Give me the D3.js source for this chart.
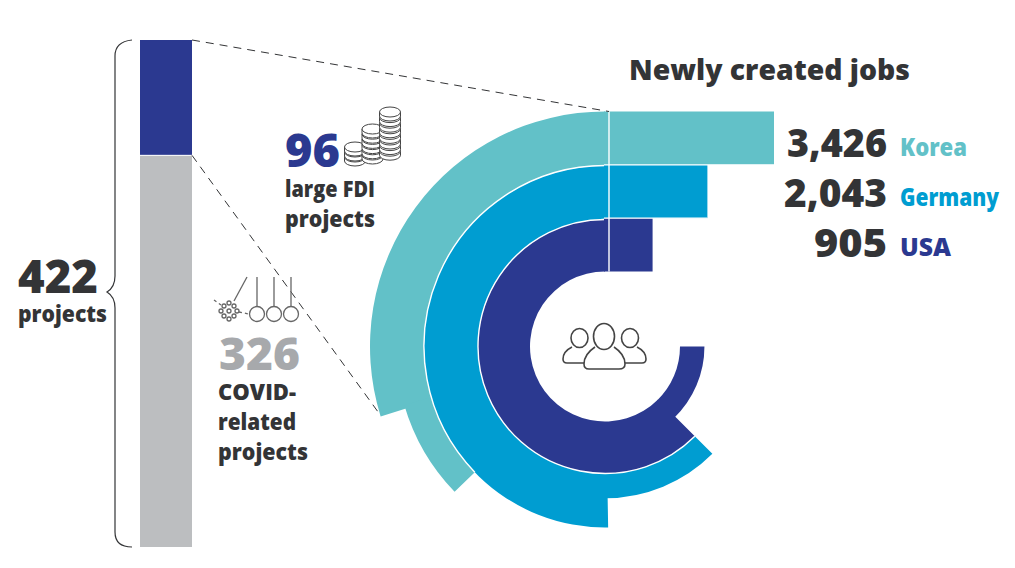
<!DOCTYPE html>
<html><head><meta charset="utf-8">
<script src="https://cdnjs.cloudflare.com/ajax/libs/d3/7.8.5/d3.min.js"></script>
<style>html,body{margin:0;background:#fff}svg{display:block}text{font-family:"Open Sans","Noto Sans",sans-serif;font-weight:800}</style>
</head><body><svg id="c" width="1015" height="568"></svg>
<script>
const countries=["Korea","Germany","USA"];
const jobs=[3426,2043,905];
const jobLabels=["3,426","2,043","905"];
const projectGroups=["large FDI","COVID-related"];
const projectValues=[96,326];
const totalProjects=422;
// ring segments: [country index, start angle deg clockwise from top, end angle, track from, track to]
const ringCountry=[0,0,1,1,2,2];
const ringStart=[252.7,226,179,135,135,90];
const ringEnd=[360,252.7,360,179,360,135];
const ringFrom=[2,2,1,1,0,0];
const ringTo=[3,2.52,2,1.46,1,0.47];
const colors=["#62c1c8","#009dd1","#2b3990"];
const barColors=["#2b3990","#bcbec0"];
const ink="#333436";

const svg=d3.select("#c");
const cx=605,cy=346.5,barBase=609;
const angle=d3.scaleLinear().domain([0,360]).range([0,2*Math.PI]);
const radius=d3.scaleLinear().domain([0,1,2,3]).range([75,127,181,235]);
const jobX=d3.scaleLinear().domain([0,3426]).range([barBase,774]);
const barY=d3.scaleLinear().domain([0,totalProjects]).range([40,547]);
const rowY=d3.scaleBand().domain(countries).range([radius(3),radius(0)].map(r=>cy-r)).paddingInner(0);

// stacked bar
const stack=projectValues.reduce((a,v)=>{a.push((a.length?a[a.length-1]:0)+v);return a},[]);
svg.selectAll("rect.b").data(projectValues).join("rect").attr("class","b")
 .attr("x",140).attr("width",52)
 .attr("y",(d,i)=>barY(stack[i]-d)).attr("height",d=>barY(d)-barY(0))
 .attr("fill",(d,i)=>barColors[i]);
svg.append("line").attr("x1",140).attr("x2",192).attr("y1",barY(stack[0])).attr("y2",barY(stack[0])).attr("stroke","#fff").attr("stroke-width",1);

// brace
svg.append("path").attr("d","M132,40 C122,41 115,45 115,56 L115,276 C115,284 112,289 107,292 C112,295 115,300 115,308 L115,532 C115,543 122,547 132,547")
 .attr("fill","none").attr("stroke",ink).attr("stroke-width",1.2);

// rings (narrow segments tuck slightly under the wide ones so no seam shows)
const arc=d3.arc();
svg.selectAll("path.r").data(ringCountry).join("path").attr("class","r")
 .attr("transform",`translate(${cx},${cy})`)
 .attr("fill",d=>colors[d])
 .attr("d",(d,i)=>arc({innerRadius:radius(ringFrom[i]),outerRadius:radius(ringTo[i]),startAngle:angle(ringStart[i]),endAngle:angle(ringEnd[i]+(i%2?1:0))}));
// white ring separators
[1,2].forEach((t,k)=>{
 svg.append("path").attr("transform",`translate(${cx},${cy})`).attr("fill","none").attr("stroke","#fff").attr("stroke-width",1.4)
  .attr("d",d3.arc()({innerRadius:radius(t),outerRadius:radius(t),startAngle:angle(k?226:135),endAngle:angle(360)}));
});
// horizontal bars
svg.selectAll("rect.j").data(jobs).join("rect").attr("class","j")
 .attr("x",cx-1).attr("width",d=>jobX(d)-cx+1)
 .attr("y",(d,i)=>rowY(countries[i])).attr("height",rowY.bandwidth())
 .attr("fill",(d,i)=>colors[i]);
svg.selectAll("line.h").data(jobs.slice(1)).join("line").attr("class","h")
 .attr("x1",cx-1).attr("x2",(d,i)=>jobX(jobs[i])).attr("y1",(d,i)=>rowY(countries[i+1])).attr("y2",(d,i)=>rowY(countries[i+1]))
 .attr("stroke","#fff").attr("stroke-width",1.2);
svg.append("line").attr("x1",barBase).attr("x2",barBase).attr("y1",cy-radius(3)).attr("y2",cy-radius(0)).attr("stroke","#fff").attr("stroke-width",1.4);

// dashed connectors
const dash=(a,b,c,e)=>svg.append("line").attr("x1",a).attr("y1",b).attr("x2",c).attr("y2",e).attr("stroke",ink).attr("stroke-width",1).attr("stroke-dasharray","8 6");
dash(192,barY(0),barBase,cy-radius(3));
dash(192,barY(stack[0]),381,416);

// text
const T=(s,x,y,size,fill,w,anchor)=>svg.append("text").text(s).attr("x",x).attr("y",y).attr("font-size",size).attr("fill",fill)
 .attr("text-anchor",anchor||"start").attr("textLength",w).attr("lengthAdjust","spacingAndGlyphs");
T("Newly created jobs",629,80,29,ink,281);
const numY=[157,207,257],labY=[156,206,256],numW=[100,103,73],labW=[67,99,51];
jobLabels.forEach((s,i)=>{T(s,887,numY[i],39,ink,numW[i],"end");T(countries[i],900,labY[i],24,colors[i],labW[i]);});
T(String(projectValues[0]),285,167,46,barColors[0],55);
T("large FDI",285,197,23,ink,90);T("projects",285,227,23,ink,90);
T(String(projectValues[1]),219,370,45,"#a7a9ac",81);
T("COVID-",218,400,23,ink,78);T("related",218,430,23,ink,78);T("projects",218,460,23,ink,90);
T(String(totalProjects),18,293,46,ink,80);T("projects",18,322,23,ink,89);

// coins icon
const ic=svg.append("g").attr("fill","#fff").attr("stroke","#444").attr("stroke-width",1);
[[355,3,147,5],[372.5,6,129,5.2],[390,8,112,5.6]].forEach(([x,n,top,s])=>{
 for(let i=n-1;i>=0;i--){
  const y=top+i*s;
  ic.append("path").attr("d",`M${x-10.5},${y} v4 a10.5,5 0 0 0 21,0 v-4`);
  ic.append("ellipse").attr("cx",x).attr("cy",y).attr("rx",10.5).attr("ry",5);
 }
});
// pendulum icon
const pe=svg.append("g").attr("fill","none").attr("stroke","#666").attr("stroke-width",1.3);
[257,274,291].forEach(x=>{pe.append("line").attr("x1",x).attr("x2",x).attr("y1",277).attr("y2",306);pe.append("circle").attr("cx",x).attr("cy",314).attr("r",7.5);});
pe.append("line").attr("x1",247).attr("y1",277).attr("x2",234).attr("y2",301);
pe.append("line").attr("x1",214).attr("y1",300).attr("x2",221).attr("y2",305).attr("stroke-dasharray","3 3");
pe.append("line").attr("x1",239).attr("y1",312).attr("x2",249).attr("y2",314).attr("stroke-dasharray","3 3");
[[229,311],[224,306],[234,306],[221,311],[237,311],[224,316],[234,316],[229,303],[229,319]].forEach(([x,y])=>pe.append("circle").attr("cx",x).attr("cy",y).attr("r",2));
// people icon
const pp=svg.append("g").attr("fill","none").attr("stroke","#444").attr("stroke-width",1.6).attr("stroke-linejoin","round");
pp.append("ellipse").attr("cx",579.5).attr("cy",338).attr("rx",8.5).attr("ry",9.5);
pp.append("ellipse").attr("cx",630).attr("cy",338).attr("rx",8.5).attr("ry",9.5);
pp.append("ellipse").attr("cx",604).attr("cy",336.5).attr("rx",10.5).attr("ry",13);
pp.append("path").attr("d","M572,347 C566,350 563,355 563,359 Q563,363 567,363 L584,363");
pp.append("path").attr("d","M637,347 C643,350 646,355 646,359 Q646,363 642,363 L625,363");
pp.append("path").attr("d","M595,347 C589,351 584,356 584,364 Q584,369 589,369 L619,369 Q625,369 625,364 C625,356 620,351 614,347");
</script></body></html>
